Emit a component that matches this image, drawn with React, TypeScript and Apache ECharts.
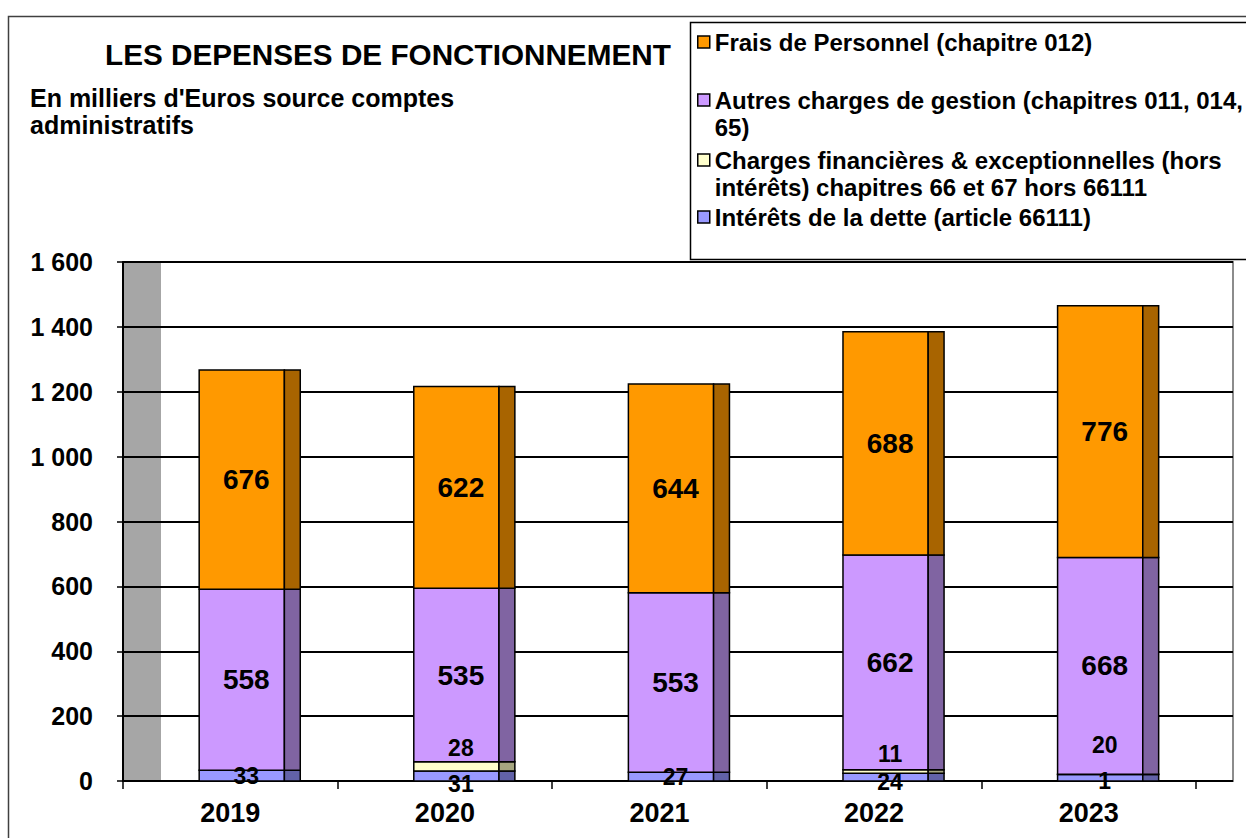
import React, { useEffect, useRef } from "react";
import * as echarts from "echarts";

const years = ["2019", "2020", "2021", "2022", "2023"];
const interets = [33, 31, 27, 24, 20];
const chargesFin = [0, 28, 0, 11, 1];
const autresCharges = [558, 535, 553, 662, 668];
const fraisPersonnel = [676, 622, 644, 688, 776];
const yTicks = [0, 200, 400, 600, 800, 1000, 1200, 1400, 1600];

const seriesNames = [
  "Intérêts de la dette (article 66111)",
  "Charges financières & exceptionnelles (hors intérêts) chapitres 66 et 67 hors 66111",
  "Autres charges de gestion (chapitres 011, 014, 65)",
  "Frais de Personnel (chapitre 012)",
];
const legendTexts: Record<string, string> = {
  [seriesNames[3]]: "Frais de Personnel (chapitre 012)",
  [seriesNames[2]]: "Autres charges de gestion (chapitres 011, 014,\n65)",
  [seriesNames[1]]: "Charges financières & exceptionnelles (hors\nintérêts) chapitres 66 et 67 hors 66111",
  [seriesNames[0]]: "Intérêts de la dette (article 66111)",
};

// style config (not data)
const frontColors = ["#9999FF", "#FFFFCC", "#CC99FF", "#FF9900"];
const sideColors = ["#6262A8", "#A6A680", "#8064A2", "#A86400"];
const labelSizes = [23, 23, 28, 28];
const labelDy = [
  [0, 8, 0, 5, -33],
  [0, -18, 0, -17, 7],
  [0, 0, 0, 0, 0],
  [0, 0, 0, 0, 0],
];

const FONT = "'Liberation Sans', Arial, Helvetica, sans-serif";

export default function App() {
  const ref = useRef<HTMLDivElement>(null);
  useEffect(() => {
    if (!ref.current) return;
    const chart = echarts.init(ref.current, undefined, { renderer: "svg" });
    const layers = [interets, chargesFin, autresCharges, fraisPersonnel];
    const bases = layers.map((_, li) =>
      years.map((__, ci) => {
        let s = 0;
        for (let k = 0; k < li; k++) s += layers[k][ci];
        return s;
      })
    );

    const series: any[] = layers.map((vals, li) => ({
      name: seriesNames[li],
      type: "custom",
      xAxisIndex: 1,
      yAxisIndex: 1,
      itemStyle: { color: frontColors[li] },
      data: vals.map((v, ci) => [ci, bases[li][ci], v]),
      renderItem: (params: any, api: any) => {
        const ci = api.value(0);
        const base = api.value(1);
        const val = api.value(2);
        if (!val) return { type: "group", children: [] };
        const b = api.coord([ci, base]);
        const t = api.coord([ci, base + val]);
        const band = api.size([1, 0])[0];
        const cx = b[0];
        const fx0 = cx - band * 0.145;
        const fx1 = cx + band * 0.252;
        const sx1 = cx + band * 0.326;
        const h = b[1] - t[1];
        return {
          type: "group",
          children: [
            {
              type: "rect",
              shape: { x: fx0, y: t[1], width: fx1 - fx0, height: h },
              style: { fill: frontColors[li], stroke: "#000", lineWidth: 1.5 },
              z2: 1,
            },
            {
              type: "rect",
              shape: { x: fx1, y: t[1], width: sx1 - fx1, height: h },
              style: { fill: sideColors[li], stroke: "#000", lineWidth: 1.5 },
              z2: 1,
            },
            {
              type: "text",
              z2: 100,
              style: {
                text: String(val),
                x: cx + 16,
                y: (b[1] + t[1]) / 2 + labelDy[li][ci],
                align: "center",
                verticalAlign: "middle",
                fontSize: labelSizes[li],
                fontWeight: "bold",
                fontFamily: FONT,
                fill: "#000",
              },
            },
          ],
        };
      },
    }));

    const legendOrder = [3, 2, 1, 0];
    const legendTops = [28.5, 59.5, 119.5, 203.5];
    const legends = legendOrder.map((si, i) => {
      return {
        data: [{ name: seriesNames[si], icon: "rect" }],
        left: 697,
        top: legendTops[i],
        padding: 0,
        orient: "vertical",
        selectedMode: false,
        itemWidth: 12,
        itemHeight: 12,
        itemStyle: { borderColor: "#000", borderWidth: 1.5 },
        formatter: (n: string) => {
          const t = legendTexts[n];
          return t.includes("\n") ? "\n" + t : t;
        },
        textStyle: {
          fontSize: 24,
          fontWeight: "bold",
          fontFamily: FONT,
          color: "#000",
          lineHeight: 27,
        },
      };
    });

    chart.setOption({
      animation: false,
      backgroundColor: "#fff",
      textStyle: { fontFamily: FONT },
      title: [
        {
          text: "LES DEPENSES DE FONCTIONNEMENT",
          left: 105,
          top: 39,
          padding: 0,
          textStyle: { fontSize: 29.7, fontWeight: "bold", color: "#000", fontFamily: FONT },
        },
        {
          text: "En milliers d'Euros source comptes\nadministratifs",
          left: 30,
          top: 84,
          padding: 0,
          textStyle: {
            fontSize: 25,
            fontWeight: "bold",
            color: "#000",
            fontFamily: FONT,
            lineHeight: 27,
          },
        },
      ],
      legend: legends,
      grid: [
        {
          left: 123,
          right: 13,
          top: 262,
          bottom: 57,
          show: true,
          borderColor: "#8c8c8c",
          borderWidth: 2,
          backgroundColor: "transparent",
        },
        { left: 123, right: 50, top: 262, bottom: 57 },
      ],
      xAxis: [
        { type: "value", gridIndex: 0, min: 0, max: 1, show: false },
        {
          type: "category",
          gridIndex: 1,
          data: years,
          axisLine: { show: true, lineStyle: { color: "#000", width: 2 } },
          axisTick: { show: true, length: 8, lineStyle: { color: "#000", width: 1.5 } },
          axisLabel: {
            margin: 18,
            fontSize: 27,
            fontWeight: "bold",
            color: "#000",
            fontFamily: FONT,
          },
          splitLine: { show: false },
        },
      ],
      yAxis: [
        {
          type: "value",
          gridIndex: 0,
          min: yTicks[0],
          max: yTicks[yTicks.length - 1],
          interval: yTicks[1] - yTicks[0],
          axisLine: { show: true, lineStyle: { color: "#000", width: 2 } },
          axisTick: { show: true, length: 6, lineStyle: { color: "#000", width: 1.5 } },
          axisLabel: {
            margin: 30,
            fontSize: 25,
            fontWeight: "bold",
            color: "#000",
            fontFamily: FONT,
            formatter: (v: number) => String(v).replace(/\B(?=(\d{3})+(?!\d))/g, " "),
          },
          splitLine: { show: true, lineStyle: { color: "#000", width: 2 } },
        },
        {
          type: "value",
          gridIndex: 1,
          min: yTicks[0],
          max: yTicks[yTicks.length - 1],
          interval: yTicks[1] - yTicks[0],
          show: false,
          splitLine: { show: false },
        },
      ],
      graphic: [
        {
          type: "rect",
          z: -10,
          silent: true,
          shape: { x: 8.5, y: 16.5, width: 1400, height: 900 },
          style: { fill: "none", stroke: "#404040", lineWidth: 1.5 },
        },
        {
          type: "rect",
          z: -10,
          silent: true,
          shape: { x: 690.5, y: 22.5, width: 700, height: 237 },
          style: { fill: "none", stroke: "#000", lineWidth: 1.5 },
        },
        {
          type: "rect",
          z: -5,
          silent: true,
          shape: { x: 123, y: 262, width: 38, height: 519 },
          style: { fill: "#A6A6A6" },
        },
      ],
      series,
    });
    return () => chart.dispose();
  }, []);
  return <div ref={ref} style={{ width: 1246, height: 838, position: "absolute", left: 0, top: 0 }} />;
}
